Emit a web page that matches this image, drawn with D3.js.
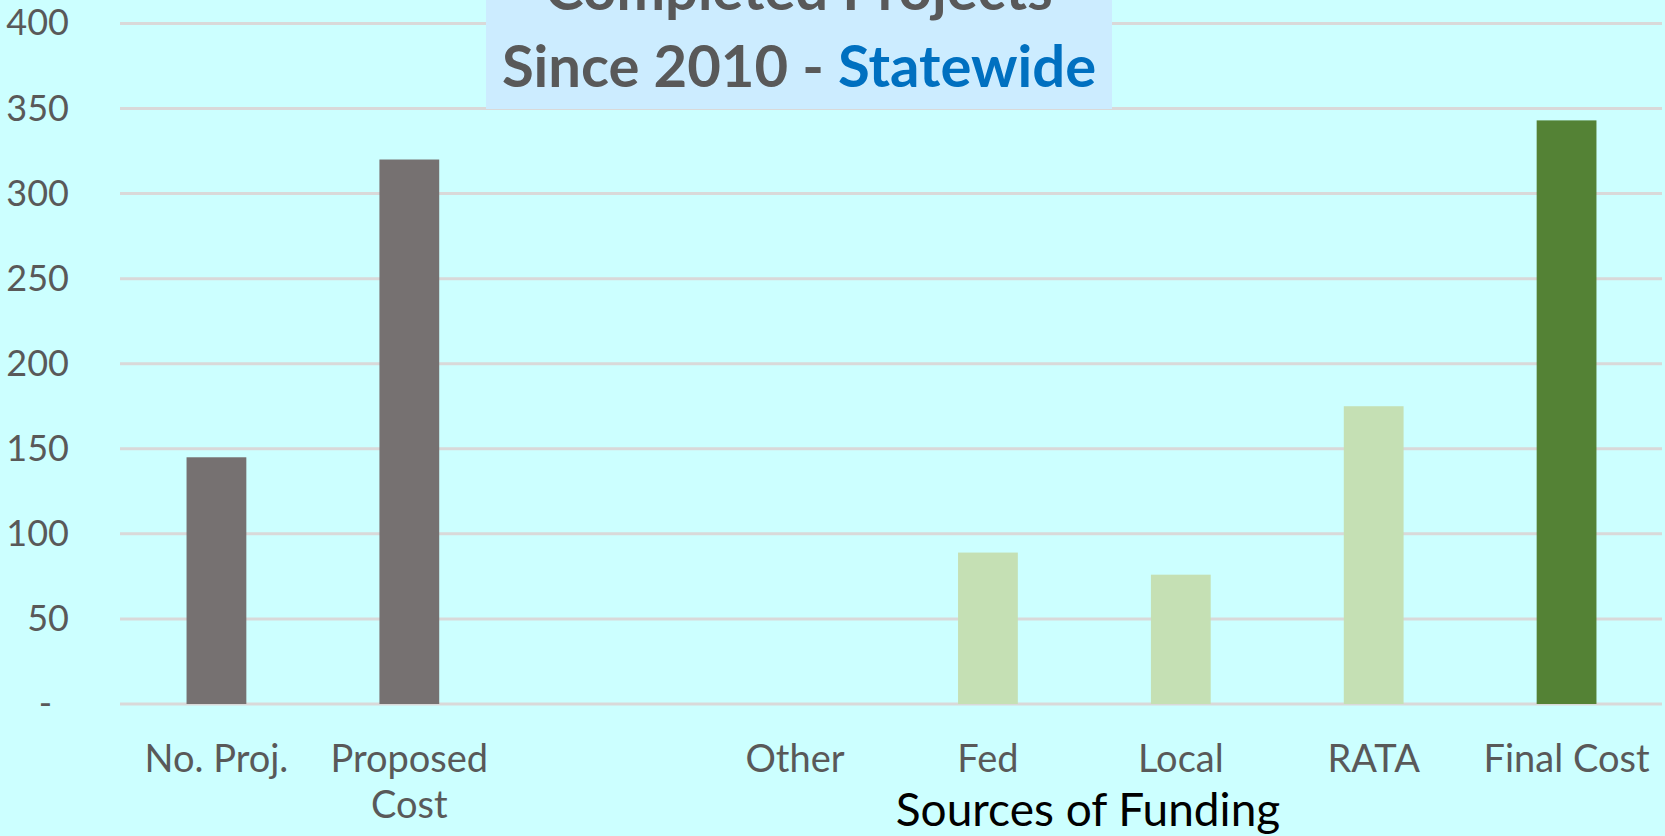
<!DOCTYPE html>
<html>
<head>
<meta charset="utf-8">
<script src="https://cdn.jsdelivr.net/npm/d3@7"></script>
<style>
  html, body { margin: 0; padding: 0; background: #CCFFFF; overflow: hidden; }
  svg { display: block; }
</style>
</head>
<body>
<div id="chart"></div>
<script>
// data
const categories = ["No. Proj.", "Proposed Cost", " ", "Other", "Fed", "Local", "RATA", "Final Cost"];
const values = [145, 320, null, 0, 89, 76, 175, 343];
const groups = ["summary", "summary", "blank", "source", "source", "source", "source", "total"];
const yTicks = [0, 50, 100, 150, 200, 250, 300, 350, 400];
const titleLine1 = "Completed Projects";
const titleLine2 = ["Since 2010 - ", "Statewide"];
const xTitle = "Sources of Funding";

let width = 1665, height = 836;
let margin = { top: 23.4, right: 2, bottom: 132, left: 120 };
let font = "Lato, 'Open Sans', sans-serif";

let color = d3.scaleOrdinal(["summary", "source", "total", "blank"], ["#767171", "#C5E0B4", "#548235", "none"]);

const svg = d3.select("#chart").append("svg")
  .attr("width", width)
  .attr("height", height);

svg.append("rect")
  .attr("width", width)
  .attr("height", height)
  .attr("fill", "#CCFFFF");

let x = d3.scaleBand()
  .domain(categories)
  .range([margin.left, width - margin.right])
  .paddingInner(0.69)
  .paddingOuter(0.345);

let y = d3.scaleLinear()
  .domain([0, 400])
  .range([height - margin.bottom, margin.top]);

// gridlines
svg.append("g")
  .selectAll("line")
  .data(yTicks)
  .join("line")
  .attr("x1", margin.left)
  .attr("x2", width - 3)
  .attr("y1", d => y(d))
  .attr("y2", d => y(d))
  .attr("stroke", "#D9D9D9")
  .attr("stroke-width", 3);

// y axis labels (zero shown as a dash, accounting style)
const yAxis = d3.axisLeft(y)
  .tickValues(yTicks)
  .tickSize(0)
  .tickPadding(51)
  .tickFormat(d => d === 0 ? "-" : d);

const gy = svg.append("g")
  .attr("transform", "translate(" + margin.left + ",0)")
  .call(yAxis);
gy.select(".domain").remove();
gy.selectAll("text")
  .attr("font-family", font)
  .attr("font-size", 36)
  .attr("fill", "#595959")
  .attr("dx", d => d === 0 ? -17 : 0);

// bars
svg.append("g")
  .selectAll("rect")
  .data(categories.map((c, i) => ({ cat: c, value: values[i], group: groups[i] })).filter(d => d.value != null))
  .join("rect")
  .attr("x", d => x(d.cat))
  .attr("width", x.bandwidth())
  .attr("y", d => y(d.value))
  .attr("height", d => y(0) - y(d.value))
  .attr("fill", d => color(d.group));

// category labels, wrapped to the band
const labels = svg.append("g")
  .selectAll("text")
  .data(categories)
  .join("text")
  .attr("x", d => x(d) + x.bandwidth() / 2)
  .attr("y", 772)
  .attr("text-anchor", "middle")
  .attr("font-family", font)
  .attr("font-size", 38)
  .attr("fill", "#595959");

labels.each(function (d) {
  const t = d3.select(this);
  const words = d.split(" ");
  let line = [];
  let tspan = t.append("tspan").attr("x", t.attr("x")).attr("dy", 0);
  words.forEach(w => {
    line.push(w);
    tspan.text(line.join(" "));
    if (tspan.node().getComputedTextLength() > x.step() * 0.95 && line.length > 1) {
      line.pop();
      tspan.text(line.join(" "));
      line = [w];
      tspan = t.append("tspan").attr("x", t.attr("x")).attr("dy", 46).text(w);
    }
  });
});

// x axis title
svg.append("text")
  .attr("x", 1088)
  .attr("y", 826)
  .attr("text-anchor", "middle")
  .attr("font-family", font)
  .attr("font-size", 46)
  .attr("fill", "#000000")
  .text(xTitle);

// title box
svg.append("rect")
  .attr("x", 486)
  .attr("y", 0)
  .attr("width", 626)
  .attr("height", 109)
  .attr("fill", "#CCECFF");

const title = svg.append("g")
  .attr("font-family", font)
  .attr("font-weight", "bold")
  .attr("font-size", 58)
  .attr("text-anchor", "middle");

title.append("text")
  .attr("x", 799)
  .attr("y", 10)
  .attr("fill", "#595959")
  .text(titleLine1);

const t2 = title.append("text")
  .attr("x", 799)
  .attr("y", 87);
t2.append("tspan").attr("fill", "#595959").text(titleLine2[0]);
t2.append("tspan").attr("fill", "#0070C0").text(titleLine2[1]);
</script>
</body>
</html>
